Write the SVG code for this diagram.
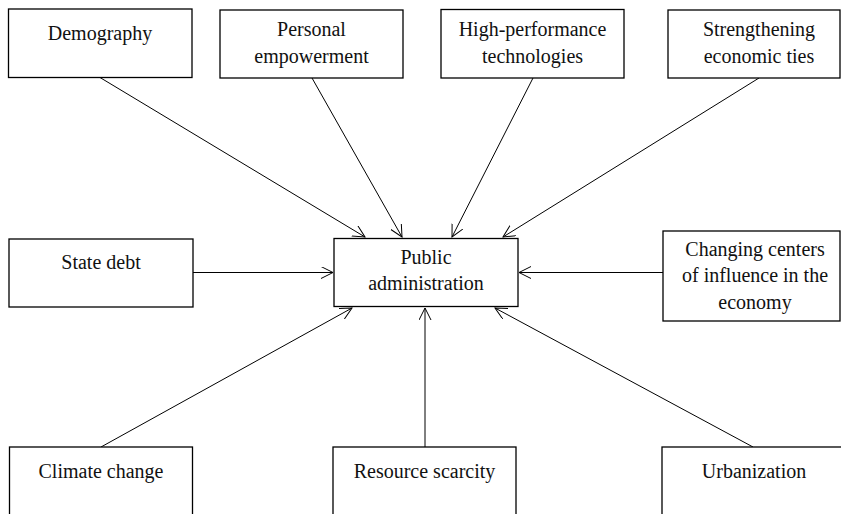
<svg xmlns="http://www.w3.org/2000/svg" width="841" height="514" viewBox="0 0 841 514">
<style>
.box{fill:#fff;stroke:#000;stroke-width:1.3}
.t{font-family:"Liberation Serif",Tinos,"Times New Roman","DejaVu Serif",serif;font-size:20px;fill:#111;text-anchor:middle}
.c{stroke:#000;stroke-width:1;fill:none}
</style>
<defs>
<marker id="arr" markerUnits="userSpaceOnUse" markerWidth="14" markerHeight="14" refX="12" refY="6" orient="auto">
<path d="M0,0 L12,6 L0,12" fill="none" stroke="#000" stroke-width="1"/>
</marker>
</defs>
<rect width="841" height="514" fill="#fff"/>
<g id="connectors">
<line class="c" x1="100" y1="77.5" x2="365" y2="237" marker-end="url(#arr)"/>
<line class="c" x1="312" y1="78" x2="402" y2="237" marker-end="url(#arr)"/>
<line class="c" x1="533" y1="78" x2="452" y2="237" marker-end="url(#arr)"/>
<line class="c" x1="759" y1="78" x2="503" y2="237" marker-end="url(#arr)"/>
<line class="c" x1="193" y1="272.5" x2="333" y2="272.5" marker-end="url(#arr)"/>
<line class="c" x1="663" y1="272.5" x2="519" y2="272.5" marker-end="url(#arr)"/>
<line class="c" x1="101" y1="447" x2="352" y2="308" marker-end="url(#arr)"/>
<line class="c" x1="425" y1="447" x2="425" y2="308" marker-end="url(#arr)"/>
<line class="c" x1="753" y1="447" x2="495" y2="308" marker-end="url(#arr)"/>
</g>
<g id="demography"><rect class="box" x="8.5" y="9" width="183.5" height="68.5"/><text class="t" x="100" y="40">Demography</text></g>
<g id="personal"><rect class="box" x="220" y="10" width="183" height="68"/><text class="t" x="311.5" y="36">Personal</text><text class="t" x="311.5" y="63">empowerment</text></g>
<g id="highperf"><rect class="box" x="441" y="9.5" width="183" height="68.5"/><text class="t" x="532.5" y="36">High-performance</text><text class="t" x="532.5" y="63">technologies</text></g>
<g id="strengthening"><rect class="box" x="668" y="10" width="172" height="68"/><text class="t" x="759" y="36">Strengthening</text><text class="t" x="759" y="63">economic ties</text></g>
<g id="statedebt"><rect class="box" x="9" y="239" width="184" height="68"/><text class="t" x="101" y="269">State debt</text></g>
<g id="public"><rect class="box" x="334" y="238.5" width="184" height="68"/><text class="t" x="426" y="263.5">Public</text><text class="t" x="426" y="290">administration</text></g>
<g id="changing"><rect class="box" x="663" y="231" width="177" height="90"/><text class="t" x="755" y="255.5">Changing centers</text><text class="t" x="755" y="282">of influence in the</text><text class="t" x="755" y="308.5">economy</text></g>
<g id="climate"><rect class="box" x="9.5" y="447" width="183" height="80"/><text class="t" x="101" y="477.5">Climate change</text></g>
<g id="resource"><rect class="box" x="333" y="447" width="183" height="80"/><text class="t" x="424.5" y="477.5">Resource scarcity</text></g>
<g id="urbanization"><rect class="box" x="662" y="447" width="190" height="80"/><text class="t" x="754" y="477.5">Urbanization</text></g>
</svg>
